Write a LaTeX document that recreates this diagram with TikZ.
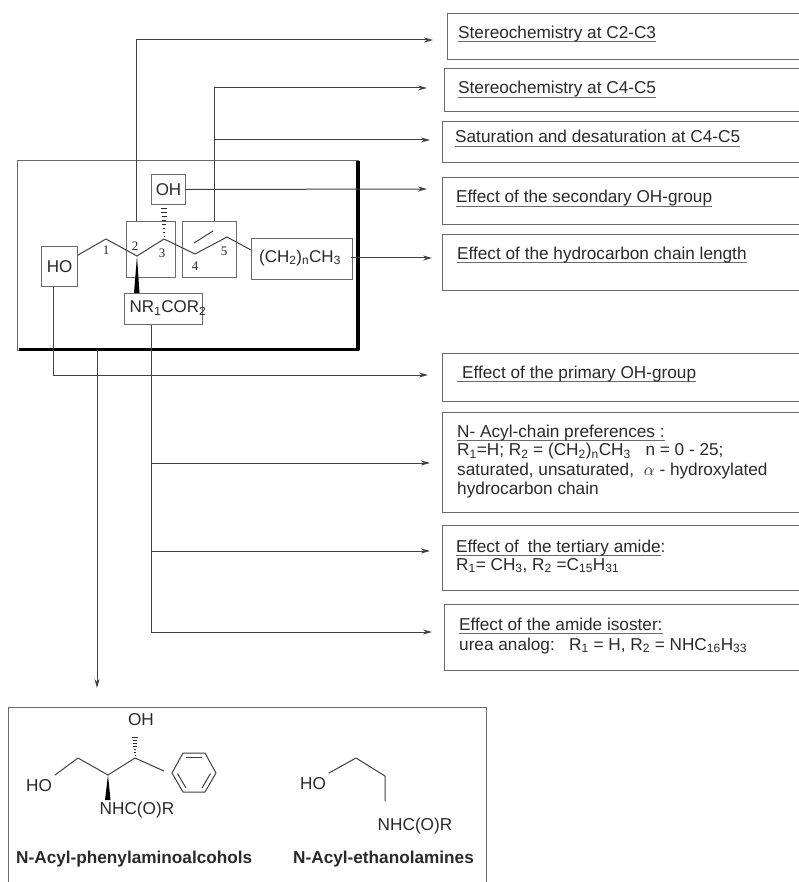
\documentclass[tikz,border=0pt]{standalone}
\usepackage{fontspec}
\setmainfont{Liberation Sans}
\newfontfamily\numfont{Liberation Serif}
\usetikzlibrary{arrows.meta}
\definecolor{ink}{HTML}{2A2A2A}
\definecolor{wire}{HTML}{404040}
\definecolor{edge}{HTML}{6A6A6A}
\newcommand\ulx[1]{\leavevmode\setbox0\hbox{#1}\rlap{\textcolor{edge}{\vrule height -2.6pt depth 3.8pt width \wd0}}\box0}
\newcommand\txt{\fontsize{17.2}{20}\selectfont}
\tikzset{
 rbox/.style={draw=edge,line width=1.3pt,anchor=north west,inner sep=0pt,minimum width=#1},
 gbox/.style={draw=edge,line width=1pt,anchor=north west,inner sep=0pt},
 lab/.style={anchor=base west,inner sep=0pt,text=ink,font=\txt},
 chem/.style={inner sep=0pt,text=ink,font=\fontsize{17}{20}\selectfont},
 chemb/.style={inner sep=0pt,text=ink,font=\fontsize{17.2}{20}\selectfont},
 num/.style={inner sep=0pt,text=ink,font=\numfont\fontsize{13}{14}\selectfont},
 bold/.style={anchor=base west,inner sep=0pt,text=ink,font=\fontsize{17.2}{20}\bfseries\selectfont},
 conn/.style={draw=wire,line width=1pt,-{Stealth[length=9pt,width=5pt]}},
 bond/.style={draw=wire,line width=1pt,line join=round}
}
\begin{document}
\begin{tikzpicture}[x=1pt,y=-1pt]
\useasboundingbox (0,0) rectangle (799,882);
\fill[white] (0,0) rectangle (799,882);
% main frame
\node[gbox,minimum width=341pt,minimum height=190pt] (frame) at (17,160) {};
\draw[black,line width=3.5pt,line join=round] (358,161) -- (358,349.5) -- (19,349.5);
% group boxes
\node[gbox,minimum width=34pt,minimum height=30pt,chem] (oh) at (151,174) {OH};
\node[gbox,minimum width=49pt,minimum height=56pt] (c23) at (126,221) {};
\node[gbox,minimum width=54pt,minimum height=56pt] (c45) at (182,221) {};
\node[gbox,minimum width=101pt,minimum height=41pt] (chain) at (251,238) {};
\node[chem] (chaintext) at (300,258) {(CH\textsubscript{2})\textsubscript{n}CH\textsubscript{3}};
\node[gbox,minimum width=36pt,minimum height=40pt,chem] (ho) at (41,246) {HO};
\node[gbox,minimum width=78pt,minimum height=31pt] (nr) at (124,293) {};
\node[chem] (nrtext) at (168,308) {NR\textsubscript{1}COR\textsubscript{2}};
% chain
\coordinate (b1) at (106,239);
\coordinate (b2) at (137,256);
\coordinate (b3) at (164,239);
\coordinate (b4) at (195,254);
\coordinate (b5) at (227,237);
\draw[bond] (ho.east |- 0,255) -- (b1) -- (b2) -- (b3) -- (b4) -- (b5) -- (chain.north west |- 0,250);
\draw[bond] (194,243) -- (213,231);
\fill[black] (b2) -- (134,293) -- (139.5,293) -- cycle;
\foreach \i in {0,...,7}{
 \pgfmathsetmacro\yy{236-\i*3.9}
 \pgfmathsetmacro\hw{0.4+\i*0.42}
 \draw[ink,line width=0.8pt] (164-\hw,\yy) -- (164+\hw,\yy);
}
\node[num] (n1) at (106,250) {1};
\node[num] (n2) at (135,246) {2};
\node[num] (n3) at (162,253) {3};
\node[num] (n4) at (195,266) {4};
\node[num] (n5) at (224,251) {5};
% right boxes
\node[rbox=360pt,minimum height=46pt] (r1) at (447,13) {};
\node[rbox=360pt,minimum height=43pt] (r2) at (444,68) {};
\node[rbox=360pt,minimum height=41pt] (r3) at (442,121) {};
\node[rbox=360pt,minimum height=47pt] (r4) at (442,177) {};
\node[rbox=360pt,minimum height=56pt] (r5) at (442,234) {};
\node[rbox=360pt,minimum height=48pt] (r6) at (442,353) {};
\node[rbox=360pt,minimum height=100pt] (r7) at (442,412) {};
\node[rbox=360pt,minimum height=65pt] (r8) at (442,525) {};
\node[rbox=360pt,minimum height=66pt] (r9) at (444,604) {};
% labels
\node[lab] (t1) at (458,38.5) {\ulx{Stereochemistry at C2-C3}};
\node[lab] (t2) at (458,94) {\ulx{Stereochemistry at C4-C5}};
\node[lab] (t3) at (455,143) {\ulx{Saturation and desaturation at C4-C5}};
\node[lab] (t4) at (456,203) {\ulx{Effect of the secondary OH-group}};
\node[lab] (t5) at (457,259) {\ulx{Effect of the hydrocarbon chain length}};
\node[lab] (t6) at (457,378.5) {\ulx{\hspace{5pt}Effect of the primary OH-group}};
\node[lab] (t7a) at (457,437) {\ulx{N- Acyl-chain preferences :}};
\node[lab] (t7b) at (457,455.5) {R\textsubscript{1}=H; R\textsubscript{2} = (CH\textsubscript{2})\textsubscript{n}CH\textsubscript{3}\hspace{10pt} n = 0 - 25;};
\node[lab] (t7c) at (457,475) {saturated, unsaturated,\hspace{5pt} $\alpha$ - hydroxylated};
\node[lab] (t7d) at (457,494) {hydrocarbon chain};
\node[lab] (t8a) at (456,552) {\ulx{Effect of\hspace{4pt} the tertiary amide}:};
\node[lab] (t8b) at (456,570) {R\textsubscript{1}= CH\textsubscript{3}, R\textsubscript{2} =C\textsubscript{15}H\textsubscript{31}};
\node[lab] (t9a) at (459,630) {\ulx{Effect of the amide isoster:}};
\node[lab] (t9b) at (459,650) {urea analog:\hspace{8pt} R\textsubscript{1} = H, R\textsubscript{2} = NHC\textsubscript{16}H\textsubscript{33}};
% connector ends
\coordinate (a1) at (433,40);
\coordinate (a2) at (427,88);
\coordinate (a3) at (430,140);
\coordinate (a4) at (427,189);
\coordinate (a5) at (432,258);
\coordinate (a6) at (428,375);
\coordinate (a7) at (430,463);
\coordinate (a8) at (430,551);
\coordinate (a9) at (432,632);
\coordinate (j45) at (214,140);
\coordinate (j7) at (151,463);
\coordinate (j8) at (151,551);
\coordinate (fs) at (97,350);
\coordinate (fe) at (97,688);
% connectors
\draw[conn] ([xshift=-14.5pt]c23.north) |- (a1);
\draw[conn] ([xshift=5pt]c45.north) |- (a2);
\draw[conn] (j45) -- (a3);
\draw[conn] (oh.east) -- (a4);
\draw[conn] (chain.east |- a5) ++(-2,0) -- (a5);
\draw[conn] ([xshift=-6pt]ho.south) |- (a6);
\draw[conn] ([xshift=-12pt]nr.south) |- (a9);
\draw[conn] (j7) -- (a7);
\draw[conn] (j8) -- (a8);
\draw[conn] (fs) -- (fe);
% bottom panel
\node[gbox,line width=1.1pt,minimum width=478pt,minimum height=182pt] (panel) at (8,707) {};
\node[chemb] (pOH) at (141,720) {OH};
\node[chemb] (pHO) at (39,786) {HO};
\node[chemb] (pN) at (137,810) {NHC(O)R};
\draw[bond] (55,775) -- (78,758) -- (108,775) -- (135,758) -- (164,771);
\fill[black] (108,775) -- (105,800) -- (110.5,800) -- cycle;
\foreach \i in {0,...,6}{
 \pgfmathsetmacro\yy{755-\i*3}
 \pgfmathsetmacro\hw{0.4+\i*0.4}
 \draw[ink,line width=0.7pt] (135-\hw,\yy) -- (135+\hw,\yy);
}
\draw[bond] (172,773) -- (183,753) -- (205,753) -- (216,773) -- (205,792) -- (183,792) -- cycle;
\draw[bond] (186,757) -- (202,757);
\draw[bond] (177.5,773.5) -- (186,788);
\draw[bond] (210.5,773.5) -- (202,788);
\node[chemb] (qHO) at (313,784) {HO};
\node[chemb] (qN) at (415,826) {NHC(O)R};
\draw[bond] (329,773) -- (356,758) -- (385,776) -- (385,801);
\node[bold] (lA) at (16,863) {N-Acyl-phenylaminoalcohols};
\node[bold] (lB) at (293,863) {N-Acyl-ethanolamines};
\end{tikzpicture}
\end{document}
